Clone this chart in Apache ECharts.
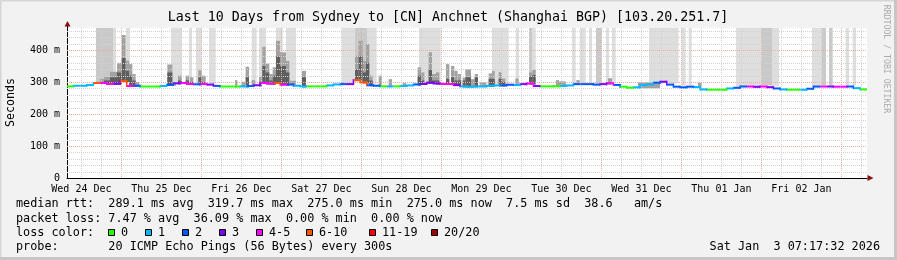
<!DOCTYPE html>
<html><head><meta charset="utf-8">
<script src="https://cdn.jsdelivr.net/npm/echarts@6/dist/echarts.min.js"></script>
<style>html,body{margin:0;padding:0;background:#f2f2f2}#c{width:897px;height:260px}</style>
</head><body><div id="c"></div>
<script>
// ---- data ----
const TOTAL_HOURS = 240;          // 10 days shown
const FIRST_MIDNIGHT = 16.33;     // hours from chart start to Thu 25 Dec 00:00
const SAMPLE_HOURS = 2;
const Y_MAX = 469;                // ms at top of plot
const dayLabels = ['Wed 24 Dec','Thu 25 Dec','Fri 26 Dec','Sat 27 Dec','Sun 28 Dec','Mon 29 Dec','Tue 30 Dec','Wed 31 Dec','Thu 01 Jan','Fri 02 Jan'];
const yTickValues = [0,100,200,300,400];
// median rtt (ms), one value per 2 hours
const medianRtt = [286.5,288.5,288.5,290.5,297,297,294,295,303,287.5,
 288.5,286,286,286,287.5,291.5,296,297,294,293,
 294,292,288,286,286,286,286.5,287.5,290,297,
 295,297,291.5,292.5,288.5,286.5,286.5,286.5,286.5,289.5,
 292.5,293.5,293.5,306,299,290,288.5,286.5,286.5,286.5,
 287.5,289.5,292.5,294,298,295.5,294,294,290.5,286.5,
 285.5,286.5,286.5,288.5,289.5,289.5,291.5,290.5,293.5,295.5,
 287.5,286.5,286.5,287,288.5,289.5,293.5,293.5,293.5,292,
 293.5,296,291,285.5,282.5,283.5,290.5,293,298,301,
 292,285.5,283.5,285.5,284.5,277,276,276,276,280,
 282,286,286,285,286,284,280,277,276,276,
 276,279,286,286,286,285.5,285.5,286,281,277];
// loss class index per 2 hours (0:0, 1:1, 2:2, 3:3, 4:4-5, 5:6-10, 6:11-19, 7:20/20)
const lossClass = [0,1,1,1,5,4,4,3,5,4,
 2,0,0,0,1,2,3,4,4,2,
 4,3,2,0,0,0,1,2,3,4,
 4,5,4,2,1,1,0,0,0,1,
 1,2,3,5,5,2,2,0,1,0,
 1,1,2,3,3,3,4,4,3,1,
 1,1,1,1,1,2,2,1,3,4,
 3,0,0,0,1,1,2,2,2,2,
 3,4,2,0,0,1,1,1,2,3,
 2,2,2,2,1,1,0,0,0,1,
 2,2,4,3,4,3,2,1,0,0,
 1,2,2,4,3,4,4,2,1,0];
// full-height loss shading: [startHour, endHour, shade(1 light, 2 medium)]
const lossBands = [[8.7,13.8,2],[13.8,14.7,1],[17.7,18.9,1],[31.2,34.5,1],[36.6,37.5,1],[38.7,40.4,1],[42.6,44.6,1],
 [55.4,56.9,1],[57.6,59.7,1],[62.7,64.7,1],[65.7,68.7,1],[82.4,86.4,1],[86.4,90,2],[90,92.9,1],[105.6,112.1,1],
 [127.5,132.5,1],[134.6,135.6,1],[138.6,139.5,2],[139.5,140.6,1],[151.5,152.6,1],[153.8,155.6,1],[156.6,157.5,1],
 [158.7,160.4,2],[161.7,162.6,1],[163.5,164.6,1],[174.6,183.5,1],[184.4,185.6,1],[186.5,187.4,1],
 [200.7,208.4,1],[208.4,211.5,2],[211.5,213.6,1],[223.5,226.4,1],[226.4,227.7,2],[228.6,229.7,2],[233.6,234.6,1],[235.7,236.7,1]];
// smoke (ping spread): [startHour, endHour, outer top ms, core top ms]
const smoke = [[8.7,9.9,301,0],[9.9,11.1,310,0],[11.1,12.9,316,305],[12.9,15,332,315],[15,16.4,360,330],[16.4,17.6,447,375],
 [17.6,18.6,367,335],[18.6,19.6,356,320],[19.6,20.6,325,305],[20.6,21.6,300,0],[30.1,31.6,355,330],[31.6,32.7,300,0],
 [33.3,34.5,320,305],[35.6,36.6,320,305],[36.9,37.9,315,300],[39.4,40.4,337,315],[40.4,41.6,320,300],[50.4,51.1,306,0],
 [52.4,53.4,301,0],[53.6,54.6,348,315],[55.4,56.4,306,0],[57.6,58.5,316,300],[58.6,59.6,410,350],[59.6,60.7,358,330],
 [60.7,61.7,325,305],[61.7,62.7,346,320],[62.7,63.9,429,380],[63.9,65.7,393,350],[65.7,66.7,366,330],[66.7,68.7,304,0],
 [70.5,71.7,335,315],[82.2,83.1,299,0],[86.4,87.5,382,340],[87.5,88.7,429,380],[88.7,89.7,366,330],[89.7,90.7,419,360],
 [90.7,91.7,320,305],[93.5,94.5,320,0],[96.5,97.5,309,0],[100.7,101.7,297,0],[105.2,106.2,346,320],[106.2,107.2,330,305],
 [108.5,109.5,393,340],[109.5,110.7,325,305],[110.7,111.7,330,305],[111.7,112.7,299,0],[113.7,114.7,356,310],
 [115.2,116.2,350,315],[116.2,117.2,335,305],[117.2,118.2,325,305],[118.7,119.5,314,305],[119.5,121.2,340,315],
 [121.2,122.3,309,0],[122.3,123.3,325,315],[123.8,125.8,299,0],[126.5,127.5,327,310],[127.5,128.3,335,310],
 [129.5,130.5,331,310],[130.5,131.5,311,300],[134.5,135.5,311,0],[138.6,139.6,330,318],[139.6,140.6,338,322],
 [146.7,147.6,306,0],[147.6,149.7,302,0],[152.8,153.8,306,0],[162.3,163.5,312,300],[171.3,177.9,299,0],[189.3,190.4,298,0]];
const lossColors = ['#26ff00','#00b8ff','#0059ff','#7e00ff','#ff00ff','#ff5500','#ff0000','#a10000'];
const lossLabels = ['0','1','2','3','4-5','6-10','11-19','20/20'];

// ---- build ----
const MONO = "'DejaVu Sans Mono', monospace";
function medAt(h){ return medianRtt[Math.max(0, Math.min(medianRtt.length-1, Math.floor(h / SAMPLE_HOURS)))]; }

const medianData = medianRtt.map((m, i) => [i*SAMPLE_HOURS, (i+1)*SAMPLE_HOURS, m, lossClass[i], i+1 < medianRtt.length ? medianRtt[i+1] : -1]);
const bandData = lossBands.map(b => [b[0], b[1], b[2], medAt(b[0]) + 3]);
const smokeData = smoke.map(s => [s[0], s[1], s[2], s[3], medAt(s[0]) - 3]);

const gridData = [];
for (let h = FIRST_MIDNIGHT - 12; h < TOTAL_HOURS; h += 6) {
  if (h <= 0.5) continue;
  const major = Math.abs(((h - FIRST_MIDNIGHT) % 24 + 24) % 24) < 0.01 ? 1 : 0;
  gridData.push([0, h, major]);
}
for (let v = 20; v < Y_MAX; v += 20) gridData.push([1, v, v % 100 === 0 ? 1 : 0]);
const noonValues = dayLabels.map((_, k) => FIRST_MIDNIGHT - 12 + 24*k);

const chart = echarts.init(document.getElementById('c'), null, {renderer: 'canvas'});

const option = {
  animation: false,
  backgroundColor: '#f2f2f2',
  grid: {left: 67, right: 30, top: 28, bottom: 82, show: true, backgroundColor: '#ffffff', borderWidth: 0},
  xAxis: {
    type: 'value', min: 0, max: TOTAL_HOURS,
    axisLine: {show: true, lineStyle: {color: '#000', width: 1}},
    axisTick: {show: false},
    splitLine: {show: false},
    axisLabel: {
      customValues: noonValues,
      formatter: v => dayLabels[Math.round((v - (FIRST_MIDNIGHT - 12)) / 24)] || '',
      fontFamily: MONO, fontSize: 10, color: '#000', margin: 6
    }
  },
  yAxis: {
    type: 'value', min: 0, max: Y_MAX, interval: 100,
    axisLine: {show: true, lineStyle: {color: '#000', width: 1}},
    axisTick: {show: false},
    splitLine: {show: false},
    axisLabel: {
      showMaxLabel: false,
      formatter: v => v === 0 ? '0' : (yTickValues.indexOf(v) >= 0 ? v + ' m' : ''),
      fontFamily: MONO, fontSize: 10, color: '#000', margin: 7
    }
  },
  series: [
    {
      type: 'custom', name: 'loss', clip: true, z: 1, silent: true,
      data: bandData,
      renderItem: (params, api) => {
        const a = api.coord([api.value(0), Y_MAX]);
        const b = api.coord([api.value(1), api.value(3)]);
        return {type: 'rect', shape: {x: a[0], y: a[1], width: b[0]-a[0], height: b[1]-a[1]},
          style: {fill: api.value(2) === 2 ? '#c9c9c9' : '#dedede'}};
      }
    },
    {
      type: 'custom', name: 'smoke', clip: true, z: 2, silent: true,
      data: smokeData,
      renderItem: (params, api) => {
        const h0 = api.value(0), h1 = api.value(1), hi = api.value(2), mid = api.value(3), lo = api.value(4);
        const a = api.coord([h0, hi]), b = api.coord([h1, lo]);
        const ch = [{type: 'rect', shape: {x: a[0], y: a[1], width: b[0]-a[0], height: b[1]-a[1]}, style: {fill: '#a2a2a2'}}];
        if (mid > 0) {
          const c = api.coord([h0, mid]);
          ch.push({type: 'rect', shape: {x: a[0], y: c[1], width: b[0]-a[0], height: b[1]-c[1]}, style: {fill: '#5e5e5e'}});
        }
        return {type: 'group', children: ch};
      }
    },
    {
      type: 'custom', name: 'grid', clip: true, z: 3, silent: true,
      data: gridData,
      renderItem: (params, api) => {
        const cs = params.coordSys;
        const dir = api.value(0), v = api.value(1), major = api.value(2);
        const color = major ? '#eda8a8' : '#d2d2d2';
        if (dir === 0) {
          const x = Math.round(api.coord([v, 0])[0]) + 0.5;
          return {type: 'line', shape: {x1: x, y1: cs.y, x2: x, y2: cs.y + cs.height},
            style: {stroke: color, lineWidth: 1, lineDash: [1, 1]}};
        }
        const y = Math.round(api.coord([0, v])[1]) + 0.5;
        return {type: 'line', shape: {x1: cs.x, y1: y, x2: cs.x + cs.width, y2: y},
          style: {stroke: color, lineWidth: 1, lineDash: [1, 1]}};
      }
    },
    {
      type: 'custom', name: 'median rtt', clip: true, z: 4, silent: true,
      data: medianData,
      renderItem: (params, api) => {
        const h0 = api.value(0), h1 = api.value(1), m = api.value(2), L = api.value(3), nm = api.value(4);
        const a = api.coord([h0, m]), b = api.coord([h1, m]);
        const color = lossColors[L];
        const ch = [{type: 'rect', shape: {x: a[0], y: a[1]-1, width: b[0]-a[0], height: 2}, style: {fill: color}}];
        if (nm > 0 && nm !== m) {
          const c = api.coord([h1, nm]);
          const y0 = Math.min(a[1], c[1]) - 1, y1 = Math.max(a[1], c[1]) + 1;
          ch.push({type: 'rect', shape: {x: b[0]-1, y: y0, width: 1.5, height: y1-y0}, style: {fill: color}});
        }
        return {type: 'group', children: ch};
      }
    }
  ],
  graphic: []
};

const g = [];
// frame
g.push({type: 'rect', shape: {x: 0, y: 0, width: 897, height: 1.5}, style: {fill: '#d6d6d6'}, silent: true});
g.push({type: 'rect', shape: {x: 0, y: 0, width: 1.5, height: 260}, style: {fill: '#d6d6d6'}, silent: true});
g.push({type: 'rect', shape: {x: 0, y: 257, width: 897, height: 3}, style: {fill: '#c6c6c6'}, silent: true});
g.push({type: 'rect', shape: {x: 894, y: 0, width: 3, height: 260}, style: {fill: '#c6c6c6'}, silent: true});
// title
g.push({type: 'text', x: 448, y: 18, style: {text: 'Last 10 Days from Sydney to [CN] Anchnet (Shanghai BGP) [103.20.251.7]',
  font: "13.3px " + MONO, fill: '#000', textAlign: 'center', textVerticalAlign: 'middle'}});
// y axis name
g.push({type: 'text', x: 11, y: 102.5, rotation: Math.PI/2, style: {text: 'Seconds', font: "11.6px " + MONO, fill: '#000',
  textAlign: 'center', textVerticalAlign: 'middle'}});
// watermark
g.push({type: 'text', x: 886.5, y: 59, rotation: -Math.PI/2, style: {text: 'RRDTOOL / TOBI OETIKER', font: "8.2px " + MONO, fill: '#ababab',
  textAlign: 'center', textVerticalAlign: 'middle'}});
// arrows
g.push({type: 'polygon', shape: {points: [[64.5, 26.5], [70.5, 26.5], [67.5, 21]]}, style: {fill: '#8a1010'}, z: 10});
g.push({type: 'line', shape: {x1: 67.5, y1: 26, x2: 67.5, y2: 28}, style: {stroke: '#000', lineWidth: 1}, z: 10});
g.push({type: 'polygon', shape: {points: [[867.5, 175], [867.5, 181], [873.5, 178]]}, style: {fill: '#8a1010'}, z: 10});
// legend
const LF = "11.8px " + MONO;
const legendLines = [
  ['median rtt:  289.1 ms avg  319.7 ms max  275.0 ms min  275.0 ms now  7.5 ms sd  38.6   am/s', 204],
  ['packet loss: 7.47 % avg  36.09 % max  0.00 % min  0.00 % now', 218.5],
  ['loss color:', 232.5],
  ['probe:       20 ICMP Echo Pings (56 Bytes) every 300s', 246.5]
];
legendLines.forEach(l => g.push({type: 'text', x: 16, y: l[1], style: {text: l[0], font: LF, fill: '#000', textVerticalAlign: 'middle'}}));
g.push({type: 'text', x: 880, y: 246.5, style: {text: 'Sat Jan  3 07:17:32 2026', font: LF, fill: '#000', textAlign: 'right', textVerticalAlign: 'middle'}});
const boxX = [108.5, 145.5, 182.5, 219.5, 256.5, 306.5, 369.5, 431.5];
lossLabels.forEach((lab, k) => {
  g.push({type: 'rect', shape: {x: boxX[k], y: 229.5, width: 6, height: 6}, style: {fill: lossColors[k], stroke: '#000', lineWidth: 1}});
  g.push({type: 'text', x: boxX[k] + 12.5, y: 232.5, style: {text: lab, font: LF, fill: '#000', textVerticalAlign: 'middle'}});
});
option.graphic = g;
chart.setOption(option);
</script>
</body></html>
